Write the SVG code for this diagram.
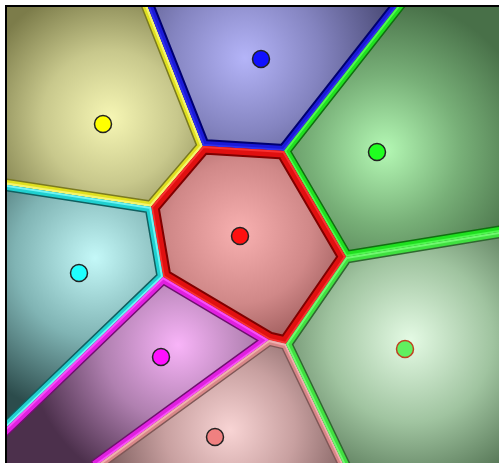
<svg xmlns="http://www.w3.org/2000/svg" xmlns:xlink="http://www.w3.org/1999/xlink" width="499" height="463" viewBox="0 0 499 463">
<style>
.band{fill:none;stroke-linejoin:miter;stroke-linecap:square}
.site{stroke:#222;stroke-width:1.5}
</style>
<defs>
<polygon id="pY" points="7,7 148,7 203,146 151,207 7,185"/>
<polygon id="pB" points="148,7 397,7 284,151 203,146"/>
<polygon id="pG" points="397,7 499,7 499,232 346,257 284,151"/>
<polygon id="pR" points="203,146 284,151 346,257 286,344 269,340 163,277 151,207"/>
<polygon id="pC" points="7,185 151,207 163,277 7,427"/>
<polygon id="pM" points="163,277 269,340 100,463 7,463 7,427"/>
<polygon id="pS" points="269,340 286,344 343,463 100,463"/>
<polygon id="pL" points="346,257 499,232 499,463 343,463 286,344"/>
<clipPath id="cY"><use xlink:href="#pY"/></clipPath>
<clipPath id="cB"><use xlink:href="#pB"/></clipPath>
<clipPath id="cG"><use xlink:href="#pG"/></clipPath>
<clipPath id="cR"><use xlink:href="#pR"/></clipPath>
<clipPath id="cC"><use xlink:href="#pC"/></clipPath>
<clipPath id="cM"><use xlink:href="#pM"/></clipPath>
<clipPath id="cS"><use xlink:href="#pS"/></clipPath>
<clipPath id="cL"><use xlink:href="#pL"/></clipPath>
<radialGradient id="gY" gradientUnits="userSpaceOnUse" cx="110" cy="118" r="135"><stop offset="0" stop-color="#f6f6b4"/><stop offset="0.5" stop-color="#c8c88c"/><stop offset="1" stop-color="#7c7c4a"/></radialGradient>
<radialGradient id="gB" gradientUnits="userSpaceOnUse" cx="245" cy="58" r="150"><stop offset="0" stop-color="#b4b4f8"/><stop offset="0.5" stop-color="#8484c0"/><stop offset="1" stop-color="#4c4c78"/></radialGradient>
<radialGradient id="gG" gradientUnits="userSpaceOnUse" cx="385" cy="150" r="150"><stop offset="0" stop-color="#b4f8b4"/><stop offset="0.5" stop-color="#78b078"/><stop offset="1" stop-color="#487048"/></radialGradient>
<radialGradient id="gR" gradientUnits="userSpaceOnUse" cx="240" cy="232" r="130"><stop offset="0" stop-color="#f8b0b0"/><stop offset="0.55" stop-color="#d08888"/><stop offset="1" stop-color="#905050"/></radialGradient>
<radialGradient id="gC" gradientUnits="userSpaceOnUse" cx="95" cy="258" r="160"><stop offset="0" stop-color="#c4f8f8"/><stop offset="0.5" stop-color="#80b4b4"/><stop offset="1" stop-color="#2c4c4c"/></radialGradient>
<radialGradient id="gM" gradientUnits="userSpaceOnUse" cx="178" cy="345" r="150"><stop offset="0" stop-color="#f8b4f8"/><stop offset="0.5" stop-color="#b080b0"/><stop offset="1" stop-color="#4c304c"/></radialGradient>
<radialGradient id="gS" gradientUnits="userSpaceOnUse" cx="230" cy="430" r="130"><stop offset="0" stop-color="#f8d4d4"/><stop offset="0.5" stop-color="#c8a0a0"/><stop offset="1" stop-color="#7c5c5c"/></radialGradient>
<radialGradient id="gL" gradientUnits="userSpaceOnUse" cx="410" cy="340" r="165"><stop offset="0" stop-color="#e4fae4"/><stop offset="0.5" stop-color="#a0c4a0"/><stop offset="1" stop-color="#4c6c4c"/></radialGradient>
</defs>
<rect x="0" y="0" width="499" height="463" fill="#ffffff"/>

<g id="cell-yellow"><use xlink:href="#pY" fill="url(#gY)"/></g>
<g id="cell-blue"><use xlink:href="#pB" fill="url(#gB)"/></g>
<g id="cell-green"><use xlink:href="#pG" fill="url(#gG)"/></g>
<g id="cell-red"><use xlink:href="#pR" fill="url(#gR)"/></g>
<g id="cell-cyan"><use xlink:href="#pC" fill="url(#gC)"/></g>
<g id="cell-magenta"><use xlink:href="#pM" fill="url(#gM)"/></g>
<g id="cell-salmon"><use xlink:href="#pS" fill="url(#gS)"/></g>
<g id="cell-lightgreen"><use xlink:href="#pL" fill="url(#gL)"/></g>

<g id="edges" class="band">
<g clip-path="url(#cY)">
<polyline points="148,7 203,146 151,207 7,185" stroke="#7a7a20" stroke-width="13"/>
<polyline points="148,7 203,146 151,207 7,185" stroke="#e0e020" stroke-width="10"/>
<polyline points="148,7 203,146 151,207 7,185" stroke="#f4f470" stroke-width="5"/>
</g>
<g clip-path="url(#cB)">
<polyline points="148,7 203,146 284,151 397,7" stroke="#000070" stroke-width="14"/>
<polyline points="148,7 203,146 284,151 397,7" stroke="#1a1ad8" stroke-width="10"/>
<polyline points="148,7 203,146 284,151 397,7" stroke="#3030ec" stroke-width="4"/>
</g>
<g clip-path="url(#cG)">
<polyline points="397,7 284,151 346,257 499,232" stroke="#107010" stroke-width="13"/>
<polyline points="397,7 284,151 346,257 499,232" stroke="#20e020" stroke-width="10"/>
<polyline points="397,7 284,151 346,257 499,232" stroke="#50f850" stroke-width="4"/>
</g>
<g clip-path="url(#cR)">
<polygon points="203,146 284,151 346,257 286,344 269,340 163,277 151,207" stroke="#800000" stroke-width="17"/>
<polygon points="203,146 284,151 346,257 286,344 269,340 163,277 151,207" stroke="#e01010" stroke-width="13"/>
<polygon points="203,146 284,151 346,257 286,344 269,340 163,277 151,207" stroke="#f83030" stroke-width="4"/>
</g>
<g clip-path="url(#cC)">
<polyline points="7,185 151,207 163,277 7,427" stroke="#106060" stroke-width="13"/>
<polyline points="7,185 151,207 163,277 7,427" stroke="#20d0d0" stroke-width="10"/>
<polyline points="7,185 151,207 163,277 7,427" stroke="#70f4f4" stroke-width="4"/>
</g>
<g clip-path="url(#cM)">
<polyline points="7,427 163,277 269,340 100,463" stroke="#701070" stroke-width="14"/>
<polyline points="7,427 163,277 269,340 100,463" stroke="#e020e0" stroke-width="11"/>
<polyline points="7,427 163,277 269,340 100,463" stroke="#f850f8" stroke-width="4"/>
</g>
<g clip-path="url(#cS)">
<polyline points="100,463 269,340 286,344 343,463" stroke="#805858" stroke-width="12"/>
<polyline points="100,463 269,340 286,344 343,463" stroke="#d88888" stroke-width="9"/>
<polyline points="100,463 269,340 286,344 343,463" stroke="#f0b0b0" stroke-width="4"/>
</g>
<g clip-path="url(#cL)">
<polyline points="343,463 286,344 346,257 499,232" stroke="#306830" stroke-width="13"/>
<polyline points="343,463 286,344 346,257 499,232" stroke="#40e040" stroke-width="10"/>
<polyline points="343,463 286,344 346,257 499,232" stroke="#70f870" stroke-width="4"/>
</g>
</g>

<g id="sites">
<circle id="site-yellow" class="site" cx="103" cy="124" r="8.5" fill="#ffff00"/>
<circle id="site-blue" class="site" cx="261" cy="59" r="8.5" fill="#1010ff"/>
<circle id="site-green" class="site" cx="377" cy="152" r="8.5" fill="#20ff20"/>
<circle id="site-red" class="site" cx="240" cy="236" r="8.5" fill="#ff1010"/>
<circle id="site-cyan" class="site" cx="79" cy="273" r="8.5" fill="#20ffff"/>
<circle id="site-magenta" class="site" cx="161" cy="357" r="8.5" fill="#ff10ff"/>
<circle id="site-salmon" class="site" cx="215" cy="437" r="8.5" fill="#f08080"/>
<circle id="site-lightgreen" cx="405" cy="349" r="8.5" fill="#60f060" stroke="#c04020" stroke-width="1.5"/>
</g>

<g id="frame" stroke="#000" stroke-width="2">
<line x1="6" y1="5" x2="6" y2="463"/>
<line x1="5" y1="6" x2="499" y2="6"/>
</g>
</svg>
